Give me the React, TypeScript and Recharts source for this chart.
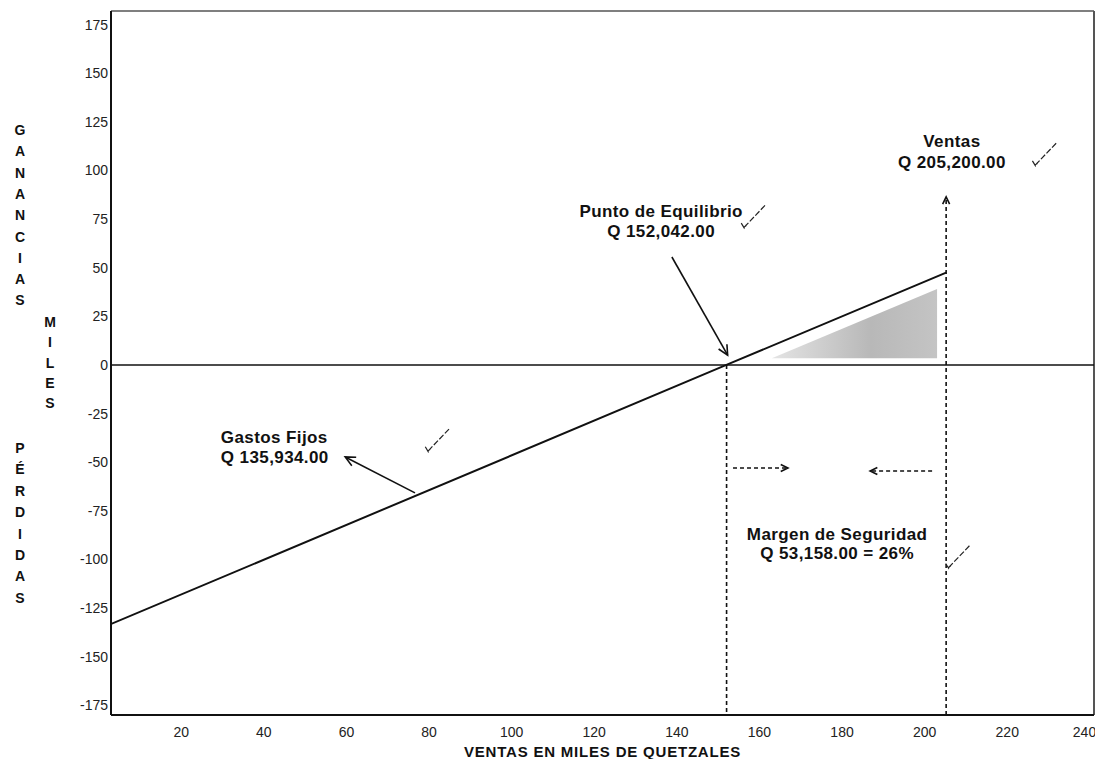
import React from "react";
import {
  ComposedChart,
  Line,
  Area,
  XAxis,
  YAxis,
  ReferenceLine,
  ReferenceDot,
} from "recharts";

const W = 1095;
const H = 759;

// ejes (miles de quetzales)
const xTicks = [20, 40, 60, 80, 100, 120, 140, 160, 180, 200, 220, 240];
const yTicks = [-175, -150, -125, -100, -75, -50, -25, 0, 25, 50, 75, 100, 125, 150, 175];
const xDomain = [3, 241];
const yDomain = [-180, 182];

// linea de utilidad: gastos fijos -> punto de equilibrio -> ventas
const profitLine = [
  { ventas: 0, utilidad: -135.9 },
  { ventas: 152.0, utilidad: 0 },
  { ventas: 205.2, utilidad: 47.5 },
];

// zona sombreada (ganancia)
const marginArea = [
  { ventas: 163, zona: [3.5, 3.5] },
  { ventas: 203, zona: [3.5, 39] },
];

const puntoEquilibrio = 152.042;
const ventasActuales = 205.2;

const ink = "#111";
const font = '"Liberation Sans", Arial, Helvetica, sans-serif';

type Pt = { x: number; y: number };

function arrowShape(dashed: boolean, head: number) {
  return (p: any) => {
    const { x1, y1, x2, y2 } = p;
    const a = Math.atan2(y2 - y1, x2 - x1);
    const hx1 = x2 - head * Math.cos(a - 0.45);
    const hy1 = y2 - head * Math.sin(a - 0.45);
    const hx2 = x2 - head * Math.cos(a + 0.45);
    const hy2 = y2 - head * Math.sin(a + 0.45);
    return (
      <g>
        <line
          x1={x1}
          y1={y1}
          x2={x2}
          y2={y2}
          stroke={ink}
          strokeWidth={1.6}
          strokeDasharray={dashed ? "4 3" : undefined}
        />
        {head > 0 ? (
          <path
            d={`M${hx1},${hy1} L${x2},${y2} L${hx2},${hy2}`}
            fill="none"
            stroke={ink}
            strokeWidth={1.6}
          />
        ) : null}
      </g>
    );
  };
}

function noteShape(lines: string[], anchor: "start" | "middle", gap: number) {
  return (p: any) => (
    <text
      x={p.cx}
      y={p.cy}
      textAnchor={anchor}
      fontFamily={font}
      fontSize={17}
      fontWeight="bold"
      letterSpacing={0.4}
      fill={ink}
    >
      <tspan x={p.cx} dy={-gap / 2 + 6}>
        {lines[0]}
      </tspan>
      <tspan x={p.cx} dy={gap}>
        {lines[1]}
      </tspan>
    </text>
  );
}

// marcas a mano (visto bueno) junto a cada nota
function checkShape(p: any) {
  const { cx, cy } = p;
  return (
    <path
      d={`M${cx - 12},${cy + 6} L${cx - 9},${cy + 11} L${cx - 7},${cy + 8} M${cx - 9},${cy + 10} L${cx + 12},${cy - 12}`}
      fill="none"
      stroke="#222"
      strokeWidth={1.2}
      strokeDasharray="6 2"
    />
  );
}

const segments: { from: Pt; to: Pt; dashed: boolean; head: number }[] = [
  { from: { x: 138.8, y: 55.5 }, to: { x: 152.3, y: 5 }, dashed: false, head: 11 },
  { from: { x: 76.6, y: -65.8 }, to: { x: 59.7, y: -47.3 }, dashed: false, head: 11 },
  { from: { x: ventasActuales, y: -180 }, to: { x: ventasActuales, y: 86.4 }, dashed: true, head: 8 },
  { from: { x: puntoEquilibrio, y: 0 }, to: { x: puntoEquilibrio, y: -180 }, dashed: true, head: 0 },
  { from: { x: 153.6, y: -53 }, to: { x: 166.9, y: -53 }, dashed: true, head: 8 },
  { from: { x: 201.8, y: -54.5 }, to: { x: 186.8, y: -54.5 }, dashed: true, head: 8 },
];

const notes = [
  { x: 136.2, y: 74.1, lines: ["Punto de Equilibrio", "Q 152,042.00"], anchor: "middle" as const, gap: 20 },
  { x: 206.6, y: 109.5, lines: ["Ventas", "Q 205,200.00"], anchor: "middle" as const, gap: 21 },
  { x: 29.6, y: -42.4, lines: ["Gastos Fijos", "Q 135,934.00"], anchor: "start" as const, gap: 20 },
  { x: 178.8, y: -91.8, lines: ["Margen de Seguridad", "Q 53,158.00 = 26%"], anchor: "middle" as const, gap: 19 },
];

const checks: Pt[] = [
  { x: 158.5, y: 76 },
  { x: 229, y: 108 },
  { x: 82, y: -39 },
  { x: 208, y: -99 },
];

const sideWords = [
  { word: "GANANCIAS", left: 20, top: 130, step: 21.3 },
  { word: "MILES", left: 50, top: 322, step: 20.3 },
  { word: "PÉRDIDAS", left: 20, top: 448, step: 21.4 },
];

export default function App() {
  return (
    <div
      style={{
        position: "absolute",
        left: 0,
        top: 0,
        width: W,
        height: H,
        background: "#fff",
        fontFamily: font,
      }}
    >
      <svg width={0} height={0} style={{ position: "absolute" }}>
        <defs>
          <linearGradient id="zonaGris" x1="0" y1="0" x2="1" y2="0">
            <stop offset="0%" stopColor="#e4e4e4" />
            <stop offset="60%" stopColor="#b8b8b8" />
            <stop offset="100%" stopColor="#c4c4c4" />
          </linearGradient>
        </defs>
      </svg>

      {sideWords.map((s) =>
        s.word.split("").map((ch, i) => (
          <div
            key={s.word + i}
            style={{
              position: "absolute",
              left: s.left - 15,
              top: s.top + i * s.step - 9,
              width: 30,
              height: 18,
              lineHeight: "18px",
              textAlign: "center",
              fontSize: 14,
              fontWeight: "bold",
              color: ink,
            }}
          >
            {ch}
          </div>
        ))
      )}

      <ComposedChart
        width={W}
        height={H}
        margin={{ top: 11, right: 1, bottom: 0, left: 0 }}
        style={{ position: "absolute", left: 0, top: 0 }}
      >
        <XAxis
          dataKey="ventas"
          type="number"
          domain={xDomain}
          ticks={xTicks}
          allowDataOverflow
          height={44}
          tickSize={0}
          tickMargin={12}
          tick={{ fill: "#222", fontSize: 14, fontFamily: font }}
          axisLine={{ stroke: ink, strokeWidth: 2 }}
          tickLine={false}
          label={{
            value: "VENTAS EN MILES DE QUETZALES",
            position: "insideBottom",
            offset: 2,
            fill: ink,
            fontSize: 15,
            fontWeight: "bold",
            letterSpacing: 0.8,
            fontFamily: font,
          }}
        />
        <YAxis
          type="number"
          domain={yDomain}
          ticks={yTicks}
          allowDataOverflow
          width={111}
          tickSize={0}
          tickMargin={3}
          tick={{ fill: "#222", fontSize: 14, fontFamily: font }}
          axisLine={{ stroke: ink, strokeWidth: 2 }}
          tickLine={false}
        />

        <ReferenceLine y={yDomain[1]} stroke="#555" strokeWidth={1.5} />
        <ReferenceLine x={xDomain[1]} stroke="#555" strokeWidth={2} />
        <ReferenceLine y={0} stroke={ink} strokeWidth={1.5} />

        <Area
          data={marginArea}
          dataKey="zona"
          type="linear"
          stroke="none"
          fill="url(#zonaGris)"
          fillOpacity={1}
          isAnimationActive={false}
        />
        <Line
          data={profitLine}
          dataKey="utilidad"
          type="linear"
          stroke={ink}
          strokeWidth={2}
          dot={false}
          activeDot={false}
          isAnimationActive={false}
        />

        {segments.map((s, i) => (
          <ReferenceLine
            key={"s" + i}
            segment={[s.from, s.to]}
            ifOverflow="visible"
            shape={arrowShape(s.dashed, s.head)}
          />
        ))}

        {notes.map((n, i) => (
          <ReferenceDot
            key={"n" + i}
            x={n.x}
            y={n.y}
            r={0}
            ifOverflow="visible"
            shape={noteShape(n.lines, n.anchor, n.gap)}
          />
        ))}

        {checks.map((c, i) => (
          <ReferenceDot key={"c" + i} x={c.x} y={c.y} r={0} ifOverflow="visible" shape={checkShape} />
        ))}
      </ComposedChart>
    </div>
  );
}
